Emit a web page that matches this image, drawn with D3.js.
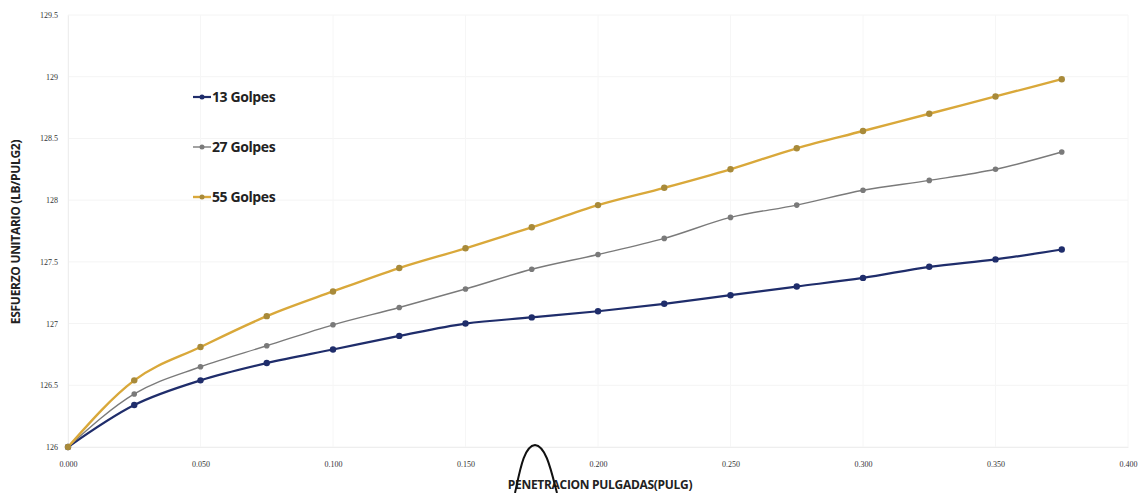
<!DOCTYPE html>
<html><head><meta charset="utf-8">
<script src="https://cdn.jsdelivr.net/npm/d3@7"></script>
<style>body{margin:0;background:#fff}svg{display:block}</style>
</head><body>
<svg id="c" width="1145" height="493"></svg>
<script>
const penetracion = [0,0.025,0.05,0.075,0.1,0.125,0.15,0.175,0.2,0.225,0.25,0.275,0.3,0.325,0.35,0.375];
const golpes13 = [126,126.34,126.54,126.68,126.79,126.90,127.00,127.05,127.10,127.16,127.23,127.30,127.37,127.46,127.52,127.60];
const golpes27 = [126,126.43,126.65,126.82,126.99,127.13,127.28,127.44,127.56,127.69,127.86,127.96,128.08,128.16,128.25,128.39];
const golpes55 = [126,126.54,126.81,127.06,127.26,127.45,127.61,127.78,127.96,128.10,128.25,128.42,128.56,128.70,128.84,128.98];
const seriesNames = ["13 Golpes","27 Golpes","55 Golpes"];
const xTicks = [0,0.05,0.1,0.15,0.2,0.25,0.3,0.35,0.4];
const yTicks = [126,126.5,127,127.5,128,128.5,129,129.5];
const xTitle = "PENETRACION PULGADAS(PULG)";
const yTitle = "ESFUERZO UNITARIO (LB/PULG2)";

const svg = d3.select("#c");
const x = d3.scaleLinear().domain([0,0.4]).range([68,1128]);
const y = d3.scaleLinear().domain([126,129.5]).range([447,15]);

// faint gridlines
svg.append("g").selectAll("line").data(yTicks).join("line")
  .attr("x1",68).attr("x2",1128).attr("y1",d=>y(d)).attr("y2",d=>y(d))
  .attr("stroke","#f4f4f4").attr("stroke-width",1);
svg.append("g").selectAll("line").data(xTicks).join("line")
  .attr("y1",15).attr("y2",447).attr("x1",d=>x(d)).attr("x2",d=>x(d))
  .attr("stroke","#f6f6f6").attr("stroke-width",1);

const yAxis = d3.axisLeft(y).tickValues(yTicks).tickSize(0).tickPadding(10)
  .tickFormat(d=>String(d));
const ya = svg.append("g").attr("transform","translate(68,0)").call(yAxis);
ya.select(".domain").attr("stroke","#eeeeee");
ya.selectAll("text").attr("font-family","Liberation Serif").attr("font-size",8).attr("fill","#333");

const xAxis = d3.axisBottom(x).tickValues(xTicks).tickSize(0).tickPadding(14)
  .tickFormat(d3.format(".3f"));
const xa = svg.append("g").attr("transform","translate(0,447)").call(xAxis);
xa.select(".domain").attr("stroke","#eeeeee");
xa.selectAll("text").attr("font-family","Liberation Serif").attr("font-size",8).attr("fill","#333");

const series = [
  {name:seriesNames[0], vals:golpes13, color:"#1f2d6b", w:2.2, r:3.2},
  {name:seriesNames[1], vals:golpes27, color:"#7a7a7a", w:1.4, r:2.8},
  {name:seriesNames[2], vals:golpes55, color:"#d9a83a", w:2.4, r:3.2}
];
const line = d3.line().x((d,i)=>x(penetracion[i])).y(d=>y(d)).curve(d3.curveMonotoneX);
series.forEach(s=>{
  svg.append("path").datum(s.vals).attr("d",line).attr("fill","none")
    .attr("stroke",s.color).attr("stroke-width",s.w);
  svg.append("g").selectAll("circle").data(s.vals).join("circle")
    .attr("cx",(d,i)=>x(penetracion[i])).attr("cy",d=>y(d)).attr("r",s.r)
    .attr("fill",s.name==="55 Golpes"?"#a88a3a":s.color);
});

// legend
const lg = svg.append("g");
series.forEach((s,i)=>{
  const ly = 97 + i*50;
  lg.append("line").attr("x1",193).attr("x2",211).attr("y1",ly).attr("y2",ly)
    .attr("stroke",s.color).attr("stroke-width",s.w);
  lg.append("circle").attr("cx",202).attr("cy",ly).attr("r",2.5).attr("fill",s.name==="55 Golpes"?"#a88a3a":s.color);
  lg.append("text").attr("x",212).attr("y",ly+5).text(s.name)
    .attr("font-family","Open Sans, Liberation Sans").attr("font-weight","bold")
    .attr("font-size",14).attr("letter-spacing","-0.4").attr("fill","#222");
});

svg.append("text").attr("x",600).attr("y",489).attr("text-anchor","middle")
  .attr("font-family","Open Sans, Liberation Sans").attr("font-weight","bold")
  .attr("font-size",12).attr("letter-spacing","-0.3").attr("fill","#222").text(xTitle);
svg.append("text").attr("transform","translate(20,232) rotate(-90)").attr("text-anchor","middle")
  .attr("font-family","Open Sans, Liberation Sans").attr("font-weight","bold")
  .attr("font-size",12).attr("letter-spacing","-0.3").attr("fill","#222").text(yTitle);

// hand-drawn arc over the axis title
svg.append("path").attr("d","M515,493 C520,470 524,446 535,445 C546,446 551,470 557,493")
  .attr("fill","none").attr("stroke","#111").attr("stroke-width",2);
</script>
</body></html>
